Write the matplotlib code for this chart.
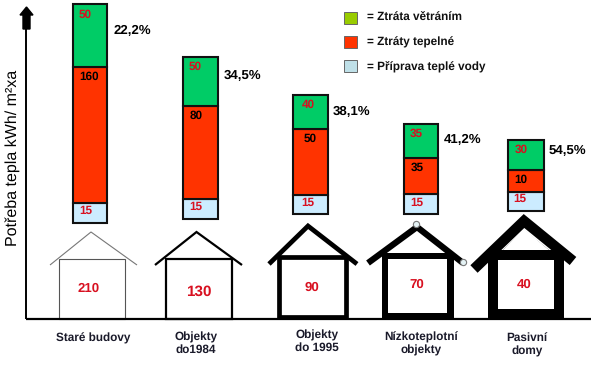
import matplotlib.pyplot as plt
from matplotlib.patches import Polygon, Rectangle

plt.rcParams['font.family'] = ['Liberation Sans', 'DejaVu Sans']
plt.rcParams['text.hinting'] = 'no_hinting'

# hodnoty popisku (kWh/m2a)
kategorie = ["Staré budovy", "Objekty\ndo1984", "Objekty\ndo 1995", "Nízkoteplotní\nobjekty", "Pasivní\ndomy"]
vetrani = [50, 50, 40, 35, 30]
tepelne = [160, 80, 50, 35, 10]
voda = [15, 15, 15, 15, 15]
celkem = [210, 130, 90, 70, 40]
procenta = ["22,2%", "34,5%", "38,1%", "41,2%", "54,5%"]

# the reference is not drawn to scale, so these are the lengths read off the picture
vyska_voda = [20, 20, 19, 20, 19]
vyska_tepelne = [136, 93, 66, 36, 22]
vyska_vetrani = [63, 49, 34, 34, 30]
odsazeni = [96, 100, 105, 105, 108]

ZELENA = '#00CC66'
CERVENA = '#FF3300'
MODRA = '#CCECFF'
TEXT_CERVENY = '#D81020'
BAZE = 319

fig = plt.figure(figsize=(6, 3.74), dpi=100)
ax = fig.add_axes([0, 0, 1, 1])
ax.set_xlim(0, 600)
ax.set_ylim(BAZE - 374, BAZE)
ax.axis('off')


def py(y):
    # pixel row of the picture -> height above the baseline
    return BAZE - y


def txt(x, y, s, color='black', size=8.5, weight='bold', **kw):
    kw.setdefault('ha', 'center')
    ax.text(x, py(y), s, color=color, fontsize=size, fontweight=weight, va='center', **kw)


# sloupce
sloupce_x = [90, 200.5, 310.5, 421, 526]
sirka = [34, 35, 35, 34, 36]
for i in range(5):
    spodek = odsazeni[i]
    for vyska, barva in [(vyska_voda[i], MODRA), (vyska_tepelne[i], CERVENA), (vyska_vetrani[i], ZELENA)]:
        ax.bar(sloupce_x[i], vyska, sirka[i], bottom=spodek, color=barva, edgecolor='#111111', linewidth=1.5, zorder=2)
        spodek += vyska

popisky_x = [[85, 89, 86], [195.5, 196, 196], [308, 310, 308], [416, 417, 417], [521, 521, 520]]
popisky_y = [[15, 77, 211], [67, 116, 207], [105, 139, 203], [134, 168, 203], [150, 180, 199]]
for i in range(5):
    txt(popisky_x[i][0], popisky_y[i][0], str(vetrani[i]), TEXT_CERVENY, 8.5)
    txt(popisky_x[i][1], popisky_y[i][1], str(tepelne[i]), 'black', 8.5)
    txt(popisky_x[i][2], popisky_y[i][2], str(voda[i]), TEXT_CERVENY, 8.5)

proc_x = [114, 224, 333, 444, 549]
proc_y = [31, 76, 112, 140, 151]
for i in range(5):
    txt(proc_x[i], proc_y[i], procenta[i], size=9.5, ha='left')

# osy
ax.plot([26, 591], [py(319), py(319)], color='black', lw=1.6, zorder=4, solid_capstyle='butt')
ax.plot([26, 26], [py(319), py(25)], color='black', lw=1.4, zorder=4, solid_capstyle='butt')
ax.add_patch(Polygon([(23, py(29)), (30, py(29)), (30, py(15)), (33, py(15)), (26.5, py(7)), (20, py(15)), (23, py(15))],
                     closed=True, color='black', zorder=4))
ax.text(13, py(158), "Potřeba tepla kWh/ m²xa", rotation=90, ha='center', va='center', fontsize=11.5, color='black')


def strecha(eave_l, apex, eave_r, lw, color='black'):
    ax.plot([eave_l[0], apex[0], eave_r[0]], [py(eave_l[1]), py(apex[1]), py(eave_r[1])],
            color=color, lw=lw, solid_joinstyle='miter', solid_capstyle='butt', zorder=3)


def obdelnik(x0, y0, x1, y1, fc='none', ec='none', lw=0):
    ax.add_patch(Rectangle((x0, py(y1)), x1 - x0, y1 - y0, facecolor=fc, edgecolor=ec, linewidth=lw, zorder=3))


# domek 1
obdelnik(58.5, 259, 124.5, 319, ec='#555555', lw=0.8)
strecha((50, 265), (91, 232), (137, 265), 0.8, '#777777')
# domek 2
obdelnik(165.5, 259, 231.5, 319, ec='black', lw=1.6)
strecha((155, 265), (196.5, 232), (242, 265), 1.6)
# domek 3
obdelnik(279, 257, 346, 317, ec='black', lw=3.4)
strecha((269, 264), (308, 226), (357, 264), 3.4)
# domek 4
obdelnik(382, 253, 454, 319, fc='black')
obdelnik(388, 259, 447, 313, fc='white')
strecha((368, 263), (417, 227), (463, 263), 4.5)
ax.plot([416, 463], [py(224), py(262)], 'o', ms=4.5, mfc='#E4F2F4', mec='#777777', mew=0.8, zorder=5)
# domek 5
ax.add_patch(Polygon([(488, py(319)), (488, py(250)), (503, py(250)), (524, py(230)), (549, py(250)), (564, py(250)), (564, py(319))],
                     closed=True, fc='black', ec='none', zorder=3))
obdelnik(498, 260, 554, 309, fc='white')
strecha((474, 269), (524, 221), (573, 261), 7.5)
ax.add_patch(Polygon([(503, py(250)), (524, py(229)), (549, py(250))], closed=True, fc='white', ec='none', zorder=4))

dum_x = [89, 199, 312, 417, 524]
dum_y = [289, 292, 288, 285, 285]
dum_size = [9.5, 11, 9.5, 9.5, 9.5]
for i in range(5):
    txt(dum_x[i], dum_y[i], str(celkem[i]), TEXT_CERVENY, dum_size[i], zorder=6)

# popisky kategorii
kat_x = [93, 196, 317, 421, 527]
kat_y = [338, 343.5, 341.5, 343.5, 344.5]
for i in range(5):
    txt(kat_x[i], kat_y[i], kategorie[i], '#1A1A2A', 8.5, linespacing=1.2)

# legenda
leg_text = ["= Ztráta větráním", "= Ztráty tepelné", "= Příprava teplé vody"]
leg_barvy = ['#99CC00', CERVENA, '#BFE0E8']
leg_y = [18, 41.5, 65.5]
leg_text_y = [17.5, 42, 67]
for t, b, y, ty in zip(leg_text, leg_barvy, leg_y, leg_text_y):
    obdelnik(344, y - 6, 357, y + 6, fc=b, ec='#666666', lw=0.7)
    txt(367, ty, t, '#111111', 8.5, ha='left')

fig.savefig('out.png', dpi=100)
